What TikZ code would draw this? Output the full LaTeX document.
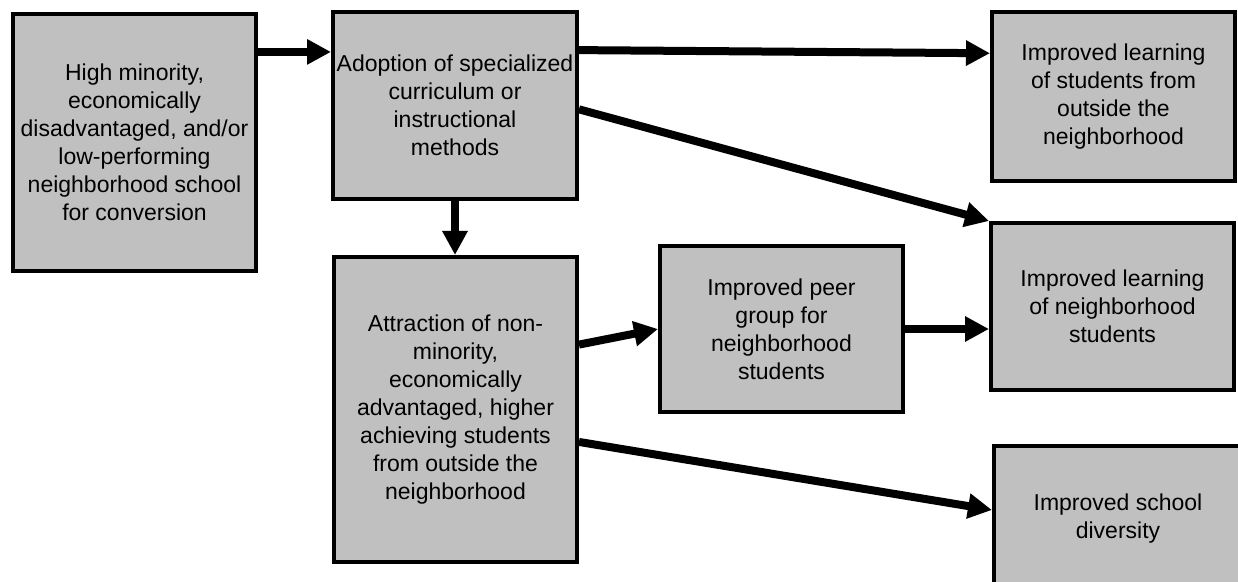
\documentclass[tikz,border=0pt]{standalone}
\usepackage{fontspec}
\setmainfont{Liberation Sans}
\usetikzlibrary{arrows.meta,calc}
\tikzstyle{box} = [draw, line width=2pt, fill=boxgray, align=center, inner sep=0pt,
                   minimum width=121.5pt, font=\fontsize{11.5}{14}\selectfont]
\tikzstyle{link} = [-{Triangle[length=12pt,width=12pt]}, line width=4pt, draw]
\definecolor{boxgray}{RGB}{192,192,192}

\begin{document}
\begin{tikzpicture}[x=0.5pt, y=-0.5pt]

        \useasboundingbox (0,0) rectangle (1238,582);

        \node[box, minimum height=128.5pt] (hood) at (134.5,142.5)
            {High minority,\\ economically\\ disadvantaged, and/or\\ low-performing\\ neighborhood school\\ for conversion};
        \node[box, minimum height=93.5pt, minimum width=122pt] (adopt) at (455,105.5)
            {Adoption of specialized\\ curriculum or\\ instructional\\ methods};
        \node[box, minimum height=152.5pt] (attract) at (455.5,409.5)
            {Attraction of non-\\ minority,\\ economically\\ advantaged, higher\\ achieving students\\ from outside the\\ neighborhood};
        \node[box, minimum height=83pt] (peer) at (781.5,329)
            {Improved peer\\ group for\\ neighborhood\\ students};

        \node[box, minimum height=84.5pt] (outside) at (1113.5,96.5)
            {Improved learning\\ of students from\\ outside the\\ neighborhood};
        \node[box, minimum height=83.5pt] (nbhood) at (1112.5,306.5)
            {Improved learning\\ of neighborhood\\ students};
        \node[box, minimum height=73pt, minimum width=124pt] (diversity) at (1118,519)
            {Improved school\\ diversity};

        \draw[link] ($(hood.north east)!.153!(hood.south east)$) coordinate (a1) -- (a1 -| adopt.west);
        \draw[link] ($(adopt.north east)!.21!(adopt.south east)$) -- ($(outside.north west)!.25!(outside.south west)$);
        \draw[link] ($(adopt.north east)!.52!(adopt.south east)$) -- (nbhood.north west);
        \draw[link] (adopt.south) -- (adopt.south |- attract.north);
        \draw[link] ($(attract.north east)!.29!(attract.south east)$) -- (peer.west);
        \draw[link] (peer.east) -- (peer.east -| nbhood.west);
        \draw[link] ($(attract.north east)!.605!(attract.south east)$) -- ($(diversity.north west)!.44!(diversity.south west)$);

    \end{tikzpicture}
\end{document}
